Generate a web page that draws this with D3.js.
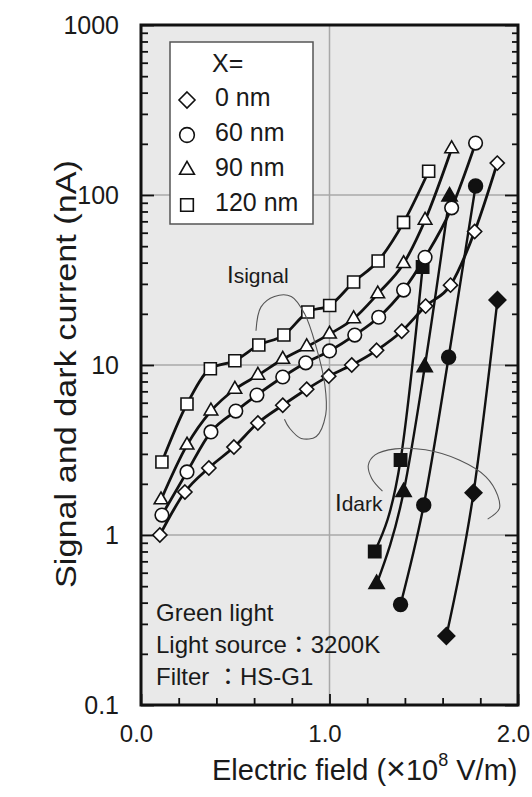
<!DOCTYPE html>
<html>
<head>
<meta charset="utf-8">
<script src="https://cdn.jsdelivr.net/npm/d3@7"></script>
<style>
  body { margin: 0; background: #fff; }
  text { font-family: "Liberation Sans", Arial, "Noto Sans CJK JP", sans-serif; fill: #1a1a1a; }
</style>
</head>
<body>
<script>
// Signal current (open markers), field in 1e8 V/m, current in nA
var fieldSig0 = [0.10, 0.233, 0.36, 0.493, 0.62, 0.752, 0.879, 0.996, 1.118, 1.25, 1.383, 1.51, 1.642, 1.77, 1.89];
var sig0 = [1.0, 1.79, 2.48, 3.29, 4.56, 5.8, 7.2, 8.6, 10.0, 12.2, 15.8, 22.2, 29.5, 61, 154];

var fieldSig60 = [0.111, 0.244, 0.371, 0.503, 0.615, 0.752, 0.874, 1.0, 1.134, 1.261, 1.393, 1.507, 1.648, 1.775];
var sig60 = [1.31, 2.35, 4.04, 5.36, 6.66, 8.5, 10.3, 12.1, 15.0, 19.1, 27.6, 43, 84, 202];

var fieldSig90 = [0.106, 0.244, 0.371, 0.498, 0.62, 0.752, 0.879, 1.0, 1.128, 1.256, 1.393, 1.507, 1.648];
var sig90 = [1.61, 3.38, 5.36, 7.2, 8.7, 10.8, 12.8, 15.2, 18.7, 26.2, 39.5, 71, 187];

var fieldSig120 = [0.111, 0.244, 0.368, 0.498, 0.625, 0.758, 0.885, 1.001, 1.128, 1.258, 1.393, 1.526];
var sig120 = [2.69, 5.9, 9.5, 10.6, 13.1, 15.0, 20.5, 22.4, 30.8, 40.9, 69, 138];

// Dark current (filled markers)
var fieldDark0 = [1.62, 1.764, 1.891];
var dark0 = [0.255, 1.77, 24.1];
var fieldDark60 = [1.377, 1.5, 1.632, 1.775];
var dark60 = [0.39, 1.5, 11.1, 113];
var fieldDark90 = [1.25, 1.393, 1.505, 1.637];
var dark90 = [0.515, 1.79, 9.7, 98];
var fieldDark120 = [1.24, 1.377, 1.494];
var dark120 = [0.8, 2.76, 37.7];

var legendLabels = ["0 nm", "60 nm", "90 nm", "120 nm"];
var legendShapes = ["diamond", "circle", "triangle", "square"];

var xTickLabels = [0, 1, 2];
var xMinorTicks = [0.2, 0.4, 0.6, 0.8, 1.2, 1.4, 1.6, 1.8];
var yTickLabels = [0.1, 1, 10, 100, 1000];
var gridX = [1.0];
var gridY = [1, 10, 100];

var notes = ["Green light", "Light source\uFF1A3200K", "Filter \uFF1AHS-G1"];

// annotation loops, in data units
var loopSignal = [[0.610, 15.9], [0.636, 21.9], [0.708, 25.3], [0.797, 25.3], [0.868, 20], [0.93, 12.7],
                  [0.975, 7.7], [0.98, 5.1], [0.93, 3.8], [0.85, 3.7], [0.788, 4.25], [0.761, 4.8]];
var loopDark = [[1.281, 1.81], [1.224, 2.15], [1.206, 2.58], [1.242, 2.96], [1.349, 3.21], [1.509, 3.17],
                [1.688, 2.76], [1.83, 2.2], [1.892, 1.71], [1.901, 1.43], [1.839, 1.24]];

// Width and height
var w = 532;
var h = 797;
var margin = {top: 25, right: 14, bottom: 92, left: 141};

var x = d3.scaleLinear().domain([0, 2]).range([margin.left, w - margin.right]);
var y = d3.scaleLog().domain([0.1, 1000]).range([h - margin.bottom, margin.top]);

var svg = d3.select("body")
      .append("svg")
      .attr("width", w)
      .attr("height", h);

// plot background
svg.append("rect")
   .attr("x", x(0)).attr("y", y(1000))
   .attr("width", x(2) - x(0)).attr("height", y(0.1) - y(1000))
   .attr("fill", "#e9e9e9");

// grid
svg.selectAll("line.gx").data(gridX).enter().append("line")
   .attr("x1", d => x(d)).attr("x2", d => x(d))
   .attr("y1", y(1000)).attr("y2", y(0.1))
   .attr("stroke", "#a8a8a8").attr("stroke-width", 1.5);
svg.selectAll("line.gy").data(gridY).enter().append("line")
   .attr("y1", d => y(d)).attr("y2", d => y(d))
   .attr("x1", x(0)).attr("x2", x(2))
   .attr("stroke", "#a8a8a8").attr("stroke-width", 1.5);

// marker shapes
var symDiamond = {
  draw: function(ctx, size) {
    var r = Math.sqrt(size / 2);
    ctx.moveTo(0, -r); ctx.lineTo(r, 0); ctx.lineTo(0, r); ctx.lineTo(-r, 0); ctx.closePath();
  }
};
var symTypes = {diamond: symDiamond, circle: d3.symbolCircle, triangle: d3.symbolTriangle, square: d3.symbolSquare};
var openSize = {diamond: 100, circle: 145, triangle: 80, square: 144};
var fillSize = {diamond: 140, circle: 150, triangle: 100, square: 150};
var legSize = {diamond: 128, circle: 170, triangle: 95, square: 160};

var signalSeries = [
  {xs: fieldSig0, ys: sig0, shape: "diamond"},
  {xs: fieldSig60, ys: sig60, shape: "circle"},
  {xs: fieldSig90, ys: sig90, shape: "triangle"},
  {xs: fieldSig120, ys: sig120, shape: "square"}
];
var darkSeries = [
  {xs: fieldDark0, ys: dark0, shape: "diamond"},
  {xs: fieldDark60, ys: dark60, shape: "circle"},
  {xs: fieldDark90, ys: dark90, shape: "triangle"},
  {xs: fieldDark120, ys: dark120, shape: "square"}
];

var line = d3.line()
      .x(d => x(d[0]))
      .y(d => y(d[1]))
      .curve(d3.curveMonotoneX);

function drawSeries(s, filled) {
  var pts = s.xs.map((v, i) => [v, s.ys[i]]);
  svg.append("path")
     .attr("d", line(pts))
     .attr("fill", "none")
     .attr("stroke", "#111")
     .attr("stroke-width", filled ? 2.4 : 2.8);
  svg.selectAll(null).data(pts).enter().append("path")
     .attr("transform", d => "translate(" + x(d[0]) + "," + y(d[1]) + ")")
     .attr("d", d3.symbol().type(symTypes[s.shape]).size(filled ? fillSize[s.shape] : openSize[s.shape]))
     .attr("fill", filled ? "#111" : "#fff")
     .attr("stroke", "#111")
     .attr("stroke-width", 1.6);
}

darkSeries.forEach(s => drawSeries(s, true));
signalSeries.forEach(s => drawSeries(s, false));

// annotation loops
var loopLine = d3.line().x(d => x(d[0])).y(d => y(d[1])).curve(d3.curveCatmullRom);
[loopSignal, loopDark].forEach(function(lp) {
  svg.append("path").attr("d", loopLine(lp))
     .attr("fill", "none").attr("stroke", "#555").attr("stroke-width", 1.1);
});

var t1 = svg.append("text").attr("x", 227).attr("y", 283);
t1.append("tspan").attr("font-size", 24).text("I");
t1.append("tspan").attr("font-size", 21).text("signal");
var t2 = svg.append("text").attr("x", 335).attr("y", 511);
t2.append("tspan").attr("font-size", 24).text("I");
t2.append("tspan").attr("font-size", 21).text("dark");

// notes
svg.selectAll("text.note").data(notes).enter().append("text")
   .attr("x", 156)
   .attr("y", (d, i) => 621 + i * 32)
   .attr("font-size", 24)
   .text(d => d);

// legend
svg.append("rect")
   .attr("x", 170).attr("y", 42).attr("width", 143).attr("height", 182)
   .attr("fill", "#fff").attr("stroke", "#555").attr("stroke-width", 1.5);
svg.append("text").attr("x", 212).attr("y", 72).attr("font-size", 25).text("X=");
legendLabels.forEach(function(lab, i) {
  svg.append("path")
     .attr("transform", "translate(187," + (100 + i * 35) + ")")
     .attr("d", d3.symbol().type(symTypes[legendShapes[i]]).size(legSize[legendShapes[i]]))
     .attr("fill", "#fff").attr("stroke", "#111").attr("stroke-width", 1.6);
  svg.append("text").attr("x", 215).attr("y", 106 + i * 35).attr("font-size", 25).text(lab);
});

// axes ticks (inside)
var majorY = yTickLabels;
var minorY = y.ticks().filter(d => majorY.indexOf(d) < 0);
function tickAxis(axis, tx, ty) {
  var g = svg.append("g").attr("transform", "translate(" + tx + "," + ty + ")").call(axis);
  g.select(".domain").remove();
  g.selectAll("line").attr("stroke", "#111").attr("stroke-width", 1.8);
  g.selectAll("text").remove();
}
tickAxis(d3.axisRight(y).tickValues(majorY).tickSize(13), x(0), 0);
tickAxis(d3.axisRight(y).tickValues(minorY).tickSize(7), x(0), 0);
tickAxis(d3.axisLeft(y).tickValues(majorY).tickSize(13), x(2), 0);
tickAxis(d3.axisLeft(y).tickValues(minorY).tickSize(6), x(2), 0);
tickAxis(d3.axisTop(x).tickValues(xTickLabels).tickSize(11), 0, y(0.1));
tickAxis(d3.axisTop(x).tickValues(xMinorTicks).tickSize(7), 0, y(0.1));

// tick labels
var yLab = svg.append("g").attr("transform", "translate(" + x(0) + ",0)")
   .call(d3.axisLeft(y).tickValues(yTickLabels).tickSize(0).tickPadding(22).tickFormat(d3.format("")));
yLab.select(".domain").remove();
yLab.selectAll("text").attr("font-size", 25).attr("font-family", null).style("fill", "#1a1a1a");

var xLab = svg.append("g").attr("transform", "translate(0," + y(0.1) + ")")
   .call(d3.axisBottom(x).tickValues(xTickLabels).tickSize(0).tickPadding(20).tickFormat(d3.format(".1f")));
xLab.select(".domain").remove();
xLab.selectAll("text").attr("font-size", 24).attr("font-family", null).attr("dx", -5).style("fill", "#1a1a1a");

// frame
svg.append("rect")
   .attr("x", x(0)).attr("y", y(1000))
   .attr("width", x(2) - x(0)).attr("height", y(0.1) - y(1000))
   .attr("fill", "none").attr("stroke", "#111").attr("stroke-width", 3);

// axis titles
var xt = svg.append("text").attr("x", 212).attr("y", 780).attr("font-size", 29);
xt.append("tspan").text("Electric field (");
xt.append("tspan").attr("font-size", 34).text("\u00D7");
xt.append("tspan").text("10");
xt.append("tspan").attr("font-size", 18).attr("dy", -14).text("8");
xt.append("tspan").attr("dy", 14).text(" V/m)");

svg.append("text")
   .attr("transform", "translate(76,374) rotate(-90)")
   .attr("text-anchor", "middle")
   .attr("font-size", 29)
   .attr("textLength", 428)
   .attr("lengthAdjust", "spacingAndGlyphs")
   .text("Signal and dark current (nA)");
</script>
</body>
</html>
